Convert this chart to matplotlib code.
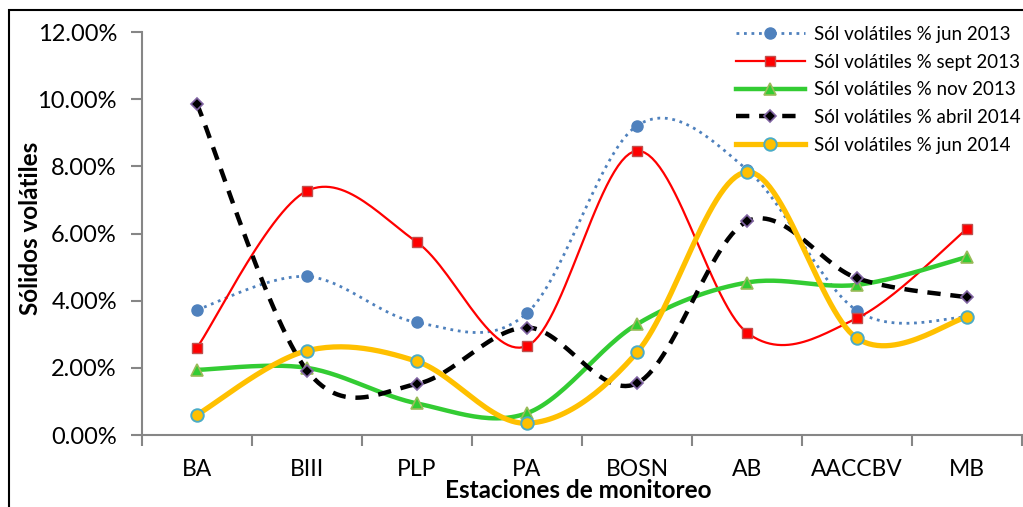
import matplotlib
matplotlib.use("Agg")
import matplotlib.pyplot as plt
import matplotlib.patches as patches
from matplotlib.ticker import FuncFormatter, FixedLocator
import numpy as np

plt.rcParams['font.family'] = ['Lato', 'DejaVu Sans']

# data (fractions)
estaciones = ['BA', 'BIII', 'PLP', 'PA', 'BOSN', 'AB', 'AACCBV', 'MB']
jun_2013 = [0.0373, 0.0472, 0.0335, 0.0363, 0.0921, 0.0790, 0.0370, 0.0351]
sept_2013 = [0.0260, 0.0727, 0.0574, 0.0265, 0.0846, 0.0305, 0.0348, 0.0614]
nov_2013 = [0.0194, 0.0200, 0.0094, 0.0065, 0.0330, 0.0454, 0.0447, 0.0530]
abril_2014 = [0.0986, 0.0192, 0.0152, 0.0320, 0.0154, 0.0636, 0.0467, 0.0410]
jun_2014 = [0.0060, 0.0251, 0.0219, 0.0035, 0.0246, 0.0783, 0.0288, 0.0351]

etiquetas = ['Sól volátiles % jun 2013', 'Sól volátiles % sept 2013',
             'Sól volátiles % nov 2013', 'Sól volátiles % abril 2014',
             'Sól volátiles % jun 2014']


def suavizar(xs, ys, n=30):
    # Excel-like smoothing: Catmull-Rom bezier through the points
    P = np.column_stack([xs, ys]).astype(float)
    out = []
    for i in range(len(P) - 1):
        p0 = P[i - 1] if i > 0 else P[i]
        p1 = P[i]
        p2 = P[i + 1]
        p3 = P[i + 2] if i + 2 < len(P) else P[i + 1]
        c1 = p1 + (p2 - p0) / 6.0
        c2 = p2 - (p3 - p1) / 6.0
        t = np.linspace(0, 1, n)[:, None]
        seg = ((1 - t) ** 3) * p1 + 3 * ((1 - t) ** 2) * t * c1 + 3 * (1 - t) * t ** 2 * c2 + t ** 3 * p2
        out.append(seg if i == 0 else seg[1:])
    out = np.vstack(out)
    return out[:, 0], out[:, 1]


fig = plt.figure(figsize=(10.23, 5.07), dpi=100)
ax = fig.add_axes([142 / 1023, (507 - 435) / 507, 880 / 1023, (435 - 32) / 507])

x = np.arange(len(estaciones))

estilos = [
    dict(data=jun_2013, color='#4F81BD', lw=2.0, ls=(0, (1, 1.7)), marker='o', ms=8,
         mfc='#4F81BD', mec='#4F81BD', mew=1),
    dict(data=sept_2013, color='#FF0000', lw=1.6, ls='-', marker='s', ms=7,
         mfc='#FF0000', mec='#C0504D', mew=1),
    dict(data=nov_2013, color='#33CC33', lw=3.2, ls='-', marker='^', ms=9,
         mfc='#33CC33', mec='#9BBB59', mew=1.2),
    dict(data=abril_2014, color='black', lw=3.2, ls=(0, (3, 2.2)), marker='D', ms=6.5,
         mfc='black', mec='#8064A2', mew=1.2),
    dict(data=jun_2014, color='#FFC000', lw=3.8, ls='-', marker='o', ms=9,
         mfc='#FFC000', mec='#4BACC6', mew=1.4),
]

handles = []
for st, lab in zip(estilos, etiquetas):
    sx, sy = suavizar(x, st['data'])
    ax.plot(sx, sy, color=st['color'], lw=st['lw'], ls=st['ls'], zorder=2)
    ax.plot(x, st['data'], ls='none', marker=st['marker'], ms=st['ms'],
            mfc=st['mfc'], mec=st['mec'], mew=st['mew'], zorder=3)
    h, = ax.plot([], [], color=st['color'], lw=st['lw'], ls=st['ls'], marker=st['marker'],
                 ms=st['ms'], mfc=st['mfc'], mec=st['mec'], mew=st['mew'])
    handles.append(h)

ax.set_xlim(-0.5, len(estaciones) - 0.5)
ax.set_ylim(0, 0.12)
ax.set_yticks(np.arange(0, 0.1201, 0.02))
ax.yaxis.set_major_formatter(FuncFormatter(lambda v, p: f'{v * 100:.2f}%'))
ax.set_xticks(x)
ax.set_xticklabels(estaciones)
ax.xaxis.set_minor_locator(FixedLocator(np.arange(-0.5, len(estaciones), 1)))
ax.tick_params(axis='x', which='major', length=0, labelsize=16.5, pad=17)
ax.tick_params(axis='x', which='minor', length=8, width=1.5, color='#868686', direction='out')
ax.tick_params(axis='y', length=8, width=1.5, color='#868686', labelsize=17, pad=10)

for s in ['top', 'right']:
    ax.spines[s].set_visible(False)
for s in ['left', 'bottom']:
    ax.spines[s].set_color('#868686')
    ax.spines[s].set_linewidth(1.5)

ax.set_xlabel('Estaciones de monitoreo', fontsize=17.5, fontweight='bold')
ax.set_ylabel('Sólidos volátiles', fontsize=17.5, fontweight='bold')
ax.xaxis.set_label_coords((578 - 142) / 880, -(491 - 435) / 403)
ax.yaxis.set_label_coords(-(142 - 30) / 880, (435 - 228) / 403)
ax.xaxis.label.set_va('center')
ax.yaxis.label.set_va('center')

leg = ax.legend(handles, etiquetas, loc='upper right', bbox_to_anchor=(0.998, 1.015),
                frameon=False, fontsize=13.5, handlelength=3.7, labelspacing=0.57,
                handletextpad=0.45, borderaxespad=0, borderpad=0)

# outer frame of the chart area
fig.patches.append(patches.Rectangle((9 / 1023, -0.05), 1.1, 1 - 10 / 507 + 0.05,
                                     transform=fig.transFigure, fill=False,
                                     edgecolor='black', lw=1.5, zorder=0))

fig.savefig('out.png', dpi=100)
